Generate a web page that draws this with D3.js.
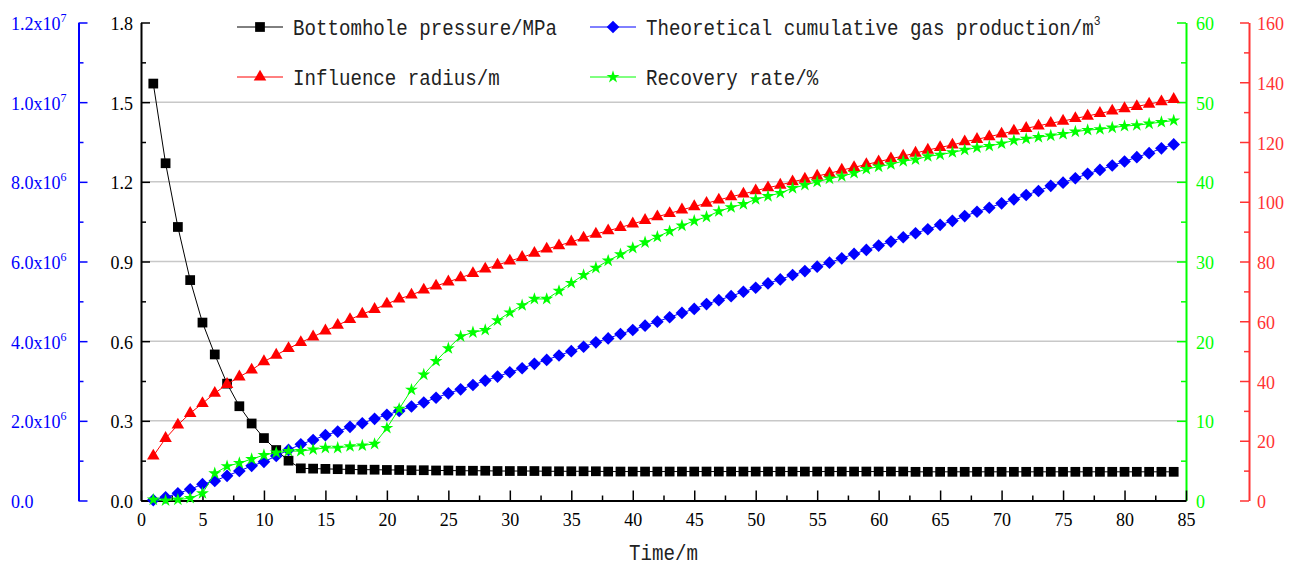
<!DOCTYPE html>
<html>
<head>
<meta charset="utf-8">
<script src="https://cdn.jsdelivr.net/npm/d3@7"></script>
<style>
    body { margin: 0; background: #fff; }
    svg { display: block; }
    .tick text { font-family: "Liberation Serif", "DejaVu Serif", serif; font-size: 18px; }
</style>
</head>
<body>
<div id="container"></div>
<script>
// time step index (x axis)
const time = d3.range(1, 85);

// bottomhole pressure, MPa (left inner axis)
const pressure = [
    1.57, 1.27, 1.03, 0.83, 0.67, 0.55, 0.44, 0.355, 0.29, 0.235,
    0.19, 0.15, 0.121, 0.120, 0.119, 0.118, 0.117, 0.116, 0.116, 0.115,
    0.115, 0.114, 0.114, 0.113, 0.113, 0.112, 0.112, 0.112, 0.111, 0.111,
    0.111, 0.111, 0.110, 0.110, 0.110, 0.110, 0.110, 0.109, 0.109, 0.109,
    0.109, 0.109, 0.109, 0.109, 0.109, 0.109, 0.109, 0.109, 0.109, 0.109,
    0.109, 0.109, 0.109, 0.109, 0.109, 0.109, 0.109, 0.109, 0.109, 0.109,
    0.109, 0.109, 0.108, 0.108, 0.108, 0.108, 0.108, 0.108, 0.108, 0.108,
    0.108, 0.108, 0.108, 0.108, 0.108, 0.108, 0.108, 0.108, 0.108, 0.108,
    0.108, 0.108, 0.108, 0.108
];

// theoretical cumulative gas production, m3 (left outer axis)
const gasProduction = [
    0.01e6, 0.08e6, 0.18e6, 0.28e6, 0.41e6, 0.49e6, 0.62e6, 0.74e6, 0.87e6, 0.97e6,
    1.12e6, 1.27e6, 1.41e6, 1.52e6, 1.64e6, 1.73e6, 1.85e6, 1.94e6, 2.05e6, 2.15e6,
    2.25e6, 2.36e6, 2.46e6, 2.58e6, 2.69e6, 2.79e6, 2.90e6, 3.01e6, 3.11e6, 3.22e6,
    3.32e6, 3.43e6, 3.53e6, 3.64e6, 3.75e6, 3.86e6, 3.97e6, 4.07e6, 4.18e6, 4.28e6,
    4.39e6, 4.49e6, 4.60e6, 4.71e6, 4.81e6, 4.93e6, 5.03e6, 5.13e6, 5.24e6, 5.34e6,
    5.45e6, 5.55e6, 5.66e6, 5.76e6, 5.87e6, 5.97e6, 6.08e6, 6.19e6, 6.29e6, 6.40e6,
    6.50e6, 6.61e6, 6.71e6, 6.81e6, 6.92e6, 7.02e6, 7.14e6, 7.25e6, 7.35e6, 7.46e6,
    7.56e6, 7.67e6, 7.77e6, 7.90e6, 7.98e6, 8.09e6, 8.20e6, 8.30e6, 8.41e6, 8.51e6,
    8.62e6, 8.72e6, 8.84e6, 8.94e6
];

// influence radius, m (right outer axis)
const radius = [
    14.9, 20.8, 25.3, 29.2, 32.5, 35.9, 38.9, 41.4, 43.7, 46.5,
    48.7, 50.9, 52.9, 54.8, 56.8, 58.7, 60.6, 62.4, 64.0, 65.8,
    67.5, 68.8, 70.5, 71.8, 73.2, 74.6, 76.0, 77.5, 78.8, 80.2,
    81.4, 82.8, 84.2, 85.3, 86.6, 87.9, 89.2, 90.3, 91.4, 92.6,
    93.8, 95.0, 96.1, 97.3, 98.4, 99.5, 100.6, 101.7, 102.6, 103.7,
    104.7, 105.6, 106.7, 107.6, 108.6, 109.5, 110.6, 111.5, 112.5, 113.4,
    114.4, 115.3, 116.3, 117.3, 118.2, 119.0, 120.1, 120.9, 121.8, 122.7,
    123.7, 124.6, 125.4, 126.3, 127.0, 127.9, 128.7, 129.6, 130.4, 131.2,
    131.9, 132.7, 133.5, 134.3
];

// recovery rate, % (right inner axis)
const recovery = [
    0.1, 0.0, 0.1, 0.3, 0.9, 3.4, 4.3, 4.7, 5.2, 5.7,
    6.0, 6.2, 6.2, 6.4, 6.6, 6.6, 6.8, 6.9, 7.1, 9.1,
    11.5, 13.9, 15.8, 17.5, 19.1, 20.6, 21.1, 21.4, 22.6, 23.6,
    24.5, 25.3, 25.3, 26.3, 27.3, 28.3, 29.2, 30.1, 30.9, 31.7,
    32.4, 33.1, 33.8, 34.5, 35.1, 35.6, 36.3, 36.8, 37.2, 37.8,
    38.2, 38.6, 39.2, 39.6, 40.0, 40.4, 40.7, 41.1, 41.6, 41.9,
    42.2, 42.6, 42.8, 43.2, 43.4, 43.7, 44.0, 44.3, 44.5, 44.8,
    45.2, 45.4, 45.6, 45.8, 46.0, 46.3, 46.5, 46.6, 46.8, 47.0,
    47.1, 47.3, 47.5, 47.7
];

const xTicks = [0, 5, 10, 15, 20, 25, 30, 35, 40, 45, 50, 55, 60, 65, 70, 75, 80, 85];
const pressureTicks = [0, 0.3, 0.6, 0.9, 1.2, 1.5, 1.8];
const gasTicks = [0, 2e6, 4e6, 6e6, 8e6, 1e7, 1.2e7];
const recoveryTicks = [0, 10, 20, 30, 40, 50, 60];
const radiusTicks = [0, 20, 40, 60, 80, 100, 120, 140, 160];

const BLUE = '#0000ff', RED = '#ff0000', GREEN = '#00ff00', RED_AXIS = '#ff3333';
const MONO = '"Liberation Mono", "DejaVu Sans Mono", monospace';

const width = 1296, height = 566;
const plotTop = 22.5, plotBottom = 500.5, plotLeft = 141, plotRight = 1186;

const svg = d3.select('#container')
    .append('svg')
    .attr('width', width)
    .attr('height', height);

const x = d3.scaleLinear().domain([0, 85]).range([plotLeft, plotRight]);
const yPres = d3.scaleLinear().domain([0, 1.8]).range([plotBottom, plotTop]);
const yGas = d3.scaleLinear().domain([0, 1.2e7]).range([plotBottom, plotTop]);
const yRate = d3.scaleLinear().domain([0, 60]).range([plotBottom, plotTop]);
const yRad = d3.scaleLinear().domain([0, 160]).range([plotBottom, plotTop]);

// horizontal grid lines
svg.append('g')
    .selectAll('line')
    .data(pressureTicks.filter(d => d > 0 && d < 1.8))
    .enter()
    .append('line')
    .attr('x1', plotLeft)
    .attr('x2', plotRight)
    .attr('y1', d => yPres(d))
    .attr('y2', d => yPres(d))
    .attr('stroke', '#c8c8c8')
    .attr('stroke-width', 1.5);

function midpoints(ticks) {
    const out = [];
    for (let i = 0; i < ticks.length - 1; i++) out.push((ticks[i] + ticks[i + 1]) / 2);
    return out;
}

// vertical axis with inward ticks; side = 'left' or 'right' of the plot
function drawYAxis(scale, xPos, ticks, color, side, labelX, anchor, fmt) {
    const make = side === 'left' ? d3.axisLeft : d3.axisRight;
    const g = svg.append('g').attr('transform', `translate(${xPos},0)`);
    const minor = g.append('g').call(make(scale).tickValues(midpoints(ticks)).tickSize(-5).tickSizeOuter(0).tickFormat(''));
    minor.select('.domain').remove();
    const major = g.append('g').call(make(scale).tickValues(ticks).tickSize(-9).tickSizeOuter(0));
    g.selectAll('.tick line').attr('stroke', color).attr('stroke-width', 1.5);
    major.select('.domain').attr('stroke', color).attr('stroke-width', 2);
    major.selectAll('.tick text')
        .attr('x', labelX)
        .attr('dy', 7)
        .attr('fill', color)
        .attr('text-anchor', anchor)
        .each(function (d) { fmt(d3.select(this), d); });
    return g;
}

function plainFmt(digits) {
    return (t, d) => t.text(d.toFixed(digits));
}

function sciFmt(t, d) {
    t.text(null);
    if (d === 0) { t.text('0.0'); return; }
    const e = Math.floor(Math.log10(d) + 1e-9);
    const m = d / Math.pow(10, e);
    t.append('tspan').text(m.toFixed(1) + 'x10');
    t.append('tspan').attr('dy', -8).style('font-size', '12px').text(e);
}

drawYAxis(yGas, 78.5, gasTicks, BLUE, 'left', 11 - 78.5, 'start', sciFmt);
drawYAxis(yPres, plotLeft, pressureTicks, '#000', 'left', -8, 'end', plainFmt(1));
drawYAxis(yRate, plotRight, recoveryTicks, GREEN, 'right', 10, 'start', plainFmt(0));
drawYAxis(yRad, 1249, radiusTicks, RED_AXIS, 'right', 8, 'start', plainFmt(0));

// x axis
const xg = svg.append('g').attr('transform', `translate(0,${plotBottom})`);
xg.append('g').call(d3.axisBottom(x).tickValues(midpoints(xTicks)).tickSize(-5).tickSizeOuter(0).tickFormat(''))
    .select('.domain').remove();
const xMajor = xg.append('g').call(d3.axisBottom(x).tickValues(xTicks).tickSize(-10).tickSizeOuter(0));
xg.selectAll('.tick line').attr('stroke', '#000').attr('stroke-width', 1.5);
xMajor.select('.domain').attr('stroke', '#000').attr('stroke-width', 2);
xMajor.selectAll('.tick text')
    .attr('y', 25)
    .attr('dy', 0)
    .attr('fill', '#000');

svg.append('text')
    .attr('transform', `translate(${(plotLeft + plotRight) / 2},560) scale(0.87,1)`)
    .attr('text-anchor', 'middle')
    .attr('font-family', MONO)
    .attr('font-size', 22)
    .attr('fill', '#222')
    .text('Time/m');

// series
const series = [
    { values: pressure, y: yPres, color: '#000', symbol: d3.symbolSquare, size: 95, rotate: 0 },
    { values: gasProduction, y: yGas, color: BLUE, symbol: d3.symbolSquare, size: 80, rotate: 45 },
    { values: radius, y: yRad, color: RED, symbol: d3.symbolTriangle, size: 68, rotate: 0 },
    { values: recovery, y: yRate, color: GREEN, symbol: d3.symbolStar, size: 52, rotate: 0 }
];

series.forEach(s => {
    const line = d3.line()
        .x((d, i) => x(time[i]))
        .y(d => s.y(d));
    svg.append('path')
        .datum(s.values)
        .attr('d', line)
        .attr('fill', 'none')
        .attr('stroke', s.color)
        .attr('stroke-width', 1);
    svg.append('g')
        .selectAll('path')
        .data(s.values)
        .enter()
        .append('path')
        .attr('d', d3.symbol(s.symbol, s.size))
        .attr('transform', (d, i) => `translate(${x(time[i])},${s.y(d)}) rotate(${s.rotate})`)
        .attr('fill', s.color);
});

// legend
const legendItems = [
    { label: 'Bottomhole pressure/MPa', lx: 237, ly: 27, s: series[0] },
    { label: 'Theoretical cumulative gas production/m', sup: '3', lx: 590, ly: 27, s: series[1] },
    { label: 'Influence radius/m', lx: 237, ly: 77, s: series[2] },
    { label: 'Recovery rate/%', lx: 590, ly: 77, s: series[3] }
];

const legend = svg.append('g').attr('class', 'legend');
legendItems.forEach(item => {
    const g = legend.append('g').attr('transform', `translate(${item.lx},${item.ly})`);
    g.append('line')
        .attr('x1', 0).attr('x2', 46)
        .attr('stroke', item.s.color)
        .attr('stroke-width', 1);
    g.append('path')
        .attr('d', d3.symbol(item.s.symbol, item.s.size))
        .attr('transform', `translate(23,0) rotate(${item.s.rotate})`)
        .attr('fill', item.s.color);
    const t = g.append('text')
        .attr('transform', 'translate(56,8) scale(0.87,1)')
        .attr('font-family', MONO)
        .attr('font-size', 22)
        .attr('fill', '#222')
        .text(item.label);
    if (item.sup) {
        t.append('tspan').attr('dy', -10).attr('font-size', 13).text(item.sup);
    }
});
</script>
</body>
</html>
